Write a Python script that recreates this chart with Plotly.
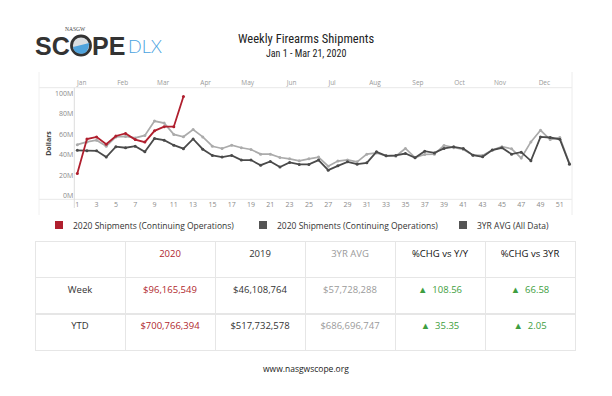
import plotly.graph_objects as go

# ---------------- data ----------------
weeks = list(range(1, 53))
weeks_2020 = list(range(1, 13))
ship_2020 = [22, 55.5, 57.5, 50.5, 58.5, 61, 55, 52.5, 63.5, 67.5, 67.5, 97]
ship_2019 = [44.5, 44, 44, 38, 48, 47, 48.5, 43, 56, 54.4, 49.5, 46.1,
             55.6, 45.6, 39.5, 37.9, 39.5, 35, 35, 30, 33.7, 28.2, 32.7, 30.8,
             30.8, 35, 25.2, 29.4, 33.3, 31, 32.3, 43, 39.1, 39.5, 41.4, 37.2,
             43.7, 42, 46.3, 47.9, 46.3, 39.8, 38.2, 44.7, 47, 40.8, 42.7, 34.3,
             57.6, 57, 55.3, 31]
avg_3yr = [50, 52.7, 54.4, 48.5, 57.6, 58, 56.6, 59, 73, 71, 60, 57.7,
           64.7, 57.6, 48.5, 46.3, 49.5, 47, 45.3, 40.8, 40.8, 37.5, 36.2, 34.3,
           36.2, 37.9, 29.1, 34, 35.2, 33.3, 40.8, 42, 39.1, 38.8, 46.3, 37.5,
           40.5, 40.8, 49.2, 47, 45.3, 39.8, 39.5, 44.7, 48, 46, 37, 52.7,
           64, 55, 57, 31.7]

week_ticks = list(range(1, 53, 2))
month_labels = ["Jan", "Feb", "Mar", "Apr", "May", "Jun",
                "Jul", "Aug", "Sep", "Oct", "Nov", "Dec"]
month_pos = [1.46, 5.7, 9.9, 14.3, 18.66, 23.2, 27.4, 31.85, 36.3, 40.6, 44.8, 49.4]
y_ticks = [0, 20, 40, 60, 80, 100]
y_ticktext = ["0M", "20M", "40M", "60M", "80M", "100M"]

legend_names = ["2020 Shipments (Continuing Operations)",
                "2020 Shipments (Continuing Operations)",
                "3YR AVG (All Data)"]

table_header = ["", "2020", "2019", "3YR AVG", "%CHG vs Y/Y", "%CHG vs 3YR"]
row_labels = ["Week", "YTD"]
col_2020 = ["$96,165,549", "$700,766,394"]
col_2019 = ["$46,108,764", "$517,732,578"]
col_3yr = ["$57,728,288", "$686,696,747"]
chg_yy = [108.56, 35.35]
chg_3yr = [66.58, 2.05]

# ---------------- styles ----------------
RED = "#b01f2e"
DARK = "#4a4a4a"
LIGHT = "#ababab"
GREEN = "#3e9e40"
OFF = 8            # default page body margin
W, H = 612 - OFF, 396 - OFF
FONT = "Open Sans, Noto Sans, sans-serif"
NARROW = "Liberation Sans Narrow, Roboto Condensed, Lato, sans-serif"


def px(x):
    return (x - OFF) / W


def py(y):
    return 1 - (y - OFF) / H


fig = go.Figure()

fig.add_trace(go.Scatter(x=weeks, y=avg_3yr, mode="lines+markers",
                         line=dict(color=LIGHT, width=1.7),
                         marker=dict(size=3, color=LIGHT), showlegend=False))
fig.add_trace(go.Scatter(x=weeks, y=ship_2019, mode="lines+markers",
                         line=dict(color=DARK, width=1.8),
                         marker=dict(size=3, color=DARK), showlegend=False))
fig.add_trace(go.Scatter(x=weeks_2020, y=ship_2020, mode="lines+markers",
                         line=dict(color=RED, width=1.8),
                         marker=dict(size=3, color=RED), showlegend=False))
# invisible trace to anchor the top month axis
fig.add_trace(go.Scatter(x=[None], y=[None], xaxis="x2", showlegend=False))

x_left, x_right = 74.3, 571.7
y_top, y_bot = 87.7, 199.3

fig.add_trace(go.Table(
    domain=dict(x=[px(35), px(575)], y=[py(352), py(241.7)]),
    columnwidth=[1] * 6,
    header=dict(values=table_header, height=36,
                fill_color="white", line=dict(color="#e6e6e6", width=1),
                align="center",
                font=dict(family=FONT, size=9.5,
                          color=["#333", RED, "#333", "#9a9a9a", "#111", "#111"])),
    cells=dict(values=[row_labels, col_2020, col_2019, col_3yr,
                       ["▲  " + f"{v:.2f}" for v in chg_yy],
                       ["▲  " + f"{v:.2f}" for v in chg_3yr]],
               height=36.3, fill_color="white",
               line=dict(color="#e6e6e6", width=1), align="center",
               font=dict(family=FONT, size=9.5,
                         color=["#333", RED, "#333", "#9a9a9a", GREEN, GREEN])),
))

fig.update_layout(
    width=W, height=H, margin=dict(l=0, r=0, t=0, b=0),
    paper_bgcolor="white", plot_bgcolor="white",
    font=dict(family=FONT, size=7, color="#888"),
    xaxis=dict(domain=[px(x_left), px(x_right)], range=[0.69, 52.23],
               tickvals=week_ticks, ticktext=[str(t) for t in week_ticks],
               showgrid=False, zeroline=False, showline=False,
               ticks="", tickfont=dict(size=7, color="#8a8a8a")),
    xaxis2=dict(overlaying="x", side="top", range=[0.69, 52.23],
                tickvals=month_pos, ticktext=month_labels, anchor="y",
                showgrid=False, zeroline=False, showline=False, ticks="",
                tickfont=dict(size=6.5, color="#9a9a9a")),
    yaxis=dict(domain=[py(y_bot), py(y_top)], range=[-3.2, 105.5],
               tickvals=y_ticks, ticktext=y_ticktext,
               showgrid=False, zeroline=False, showline=False, ticks="",
               tickfont=dict(size=7, color="#8a8a8a"),
               title=dict(text="<b>Dollars</b>", font=dict(size=7, color="#444"),
                          standoff=2)),
)

shapes = []
line_c = "#e8e8e8"
# frame lines
shapes.append(dict(type="line", xref="paper", yref="paper", x0=px(39), x1=px(572),
                   y0=py(y_top), y1=py(y_top), line=dict(color=line_c, width=1)))
shapes.append(dict(type="line", xref="paper", yref="paper", x0=px(39), x1=px(572),
                   y0=py(y_bot), y1=py(y_bot), line=dict(color=line_c, width=1)))
shapes.append(dict(type="line", xref="paper", yref="paper", x0=px(39), x1=px(39),
                   y0=py(72), y1=py(215), line=dict(color="#f0f0f0", width=1)))
shapes.append(dict(type="line", xref="paper", yref="paper", x0=px(572), x1=px(572),
                   y0=py(72), y1=py(215), line=dict(color="#ececec", width=1)))
shapes.append(dict(type="line", xref="paper", yref="paper", x0=px(x_left), x1=px(x_left),
                   y0=py(y_top), y1=py(208), line=dict(color="#dcdcdc", width=1)))

# legend squares
legend_sq_x = [55, 259, 459]
legend_colors = [RED, "#555555", "#555555"]
for sx, c in zip(legend_sq_x, legend_colors):
    shapes.append(dict(type="rect", xref="paper", yref="paper",
                       x0=px(sx), x1=px(sx + 8), y0=py(229), y1=py(221),
                       fillcolor=c, line=dict(width=0)))

# logo "O"
cx, cy, r = 81, 45.5, 9.5
shapes.append(dict(type="circle", xref="paper", yref="paper",
                   x0=px(cx - r), x1=px(cx + r), y0=py(cy + r), y1=py(cy - r),
                   fillcolor="#d9dde0", line=dict(color="#333333", width=2.8)))
shapes.append(dict(type="path", xref="paper", yref="paper",
                   path=f"M {px(cx - 8)} {py(cy + 1.5)} L {px(cx + 8.3)} {py(cy - 2.5)} "
                        f"Q {px(cx + 7)} {py(cy + 9)} {px(cx + 0.5)} {py(cy + 8.3)} "
                        f"Q {px(cx - 7)} {py(cy + 8)} {px(cx - 8)} {py(cy + 1.5)} Z",
                   fillcolor="#4fa3dc", line=dict(width=0)))
fig.update_layout(shapes=shapes)

ann = []
for sx, name in zip(legend_sq_x, legend_names):
    ann.append(dict(x=px(sx + 16), y=py(225), xref="paper", yref="paper",
                    text=name, showarrow=False, xanchor="left", yanchor="middle",
                    font=dict(family=FONT, size=8.5, color="#333")))

ann.append(dict(x=px(306), y=py(38.5), xref="paper", yref="paper",
                text="Weekly Firearms Shipments", showarrow=False,
                xanchor="center", yanchor="middle", borderpad=0,
                font=dict(family=NARROW, size=12.5, color="#222")))
ann.append(dict(x=px(306), y=py(53), xref="paper", yref="paper",
                text="Jan 1 - Mar 21, 2020", showarrow=False,
                xanchor="center", yanchor="middle", borderpad=0,
                font=dict(family=NARROW, size=10, color="#222")))
ann.append(dict(x=px(306), y=py(368), xref="paper", yref="paper",
                text="www.nasgwscope.org", showarrow=False,
                xanchor="center", yanchor="middle",
                font=dict(family=FONT, size=8.5, color="#222")))
# logo
LOGO_FONT = dict(family="Liberation Sans, Arial, sans-serif", size=25, color="#333333")
ann.append(dict(x=px(cx - r - 0.5), y=py(46), xref="paper", yref="paper",
                text="<b>SC</b>", showarrow=False, xanchor="right", yanchor="middle",
                borderpad=0, font=LOGO_FONT))
ann.append(dict(x=px(cx + r + 0.5), y=py(46), xref="paper", yref="paper",
                text="<b>PE</b>", showarrow=False, xanchor="left", yanchor="middle",
                borderpad=0, font=LOGO_FONT))
ann.append(dict(x=px(127), y=py(46.5), xref="paper", yref="paper",
                text="DLX", showarrow=False, xanchor="left", yanchor="middle",
                borderpad=0,
                font=dict(family="Lato, sans-serif", size=18, color="#4aa3df", weight=300)))
ann.append(dict(x=px(75), y=py(29), xref="paper", yref="paper",
                text="NASGW", showarrow=False, xanchor="center", yanchor="middle",
                font=dict(family="Liberation Serif, serif", size=5.5, color="#444")))
fig.update_layout(annotations=ann)

fig.write_html("out.html")
